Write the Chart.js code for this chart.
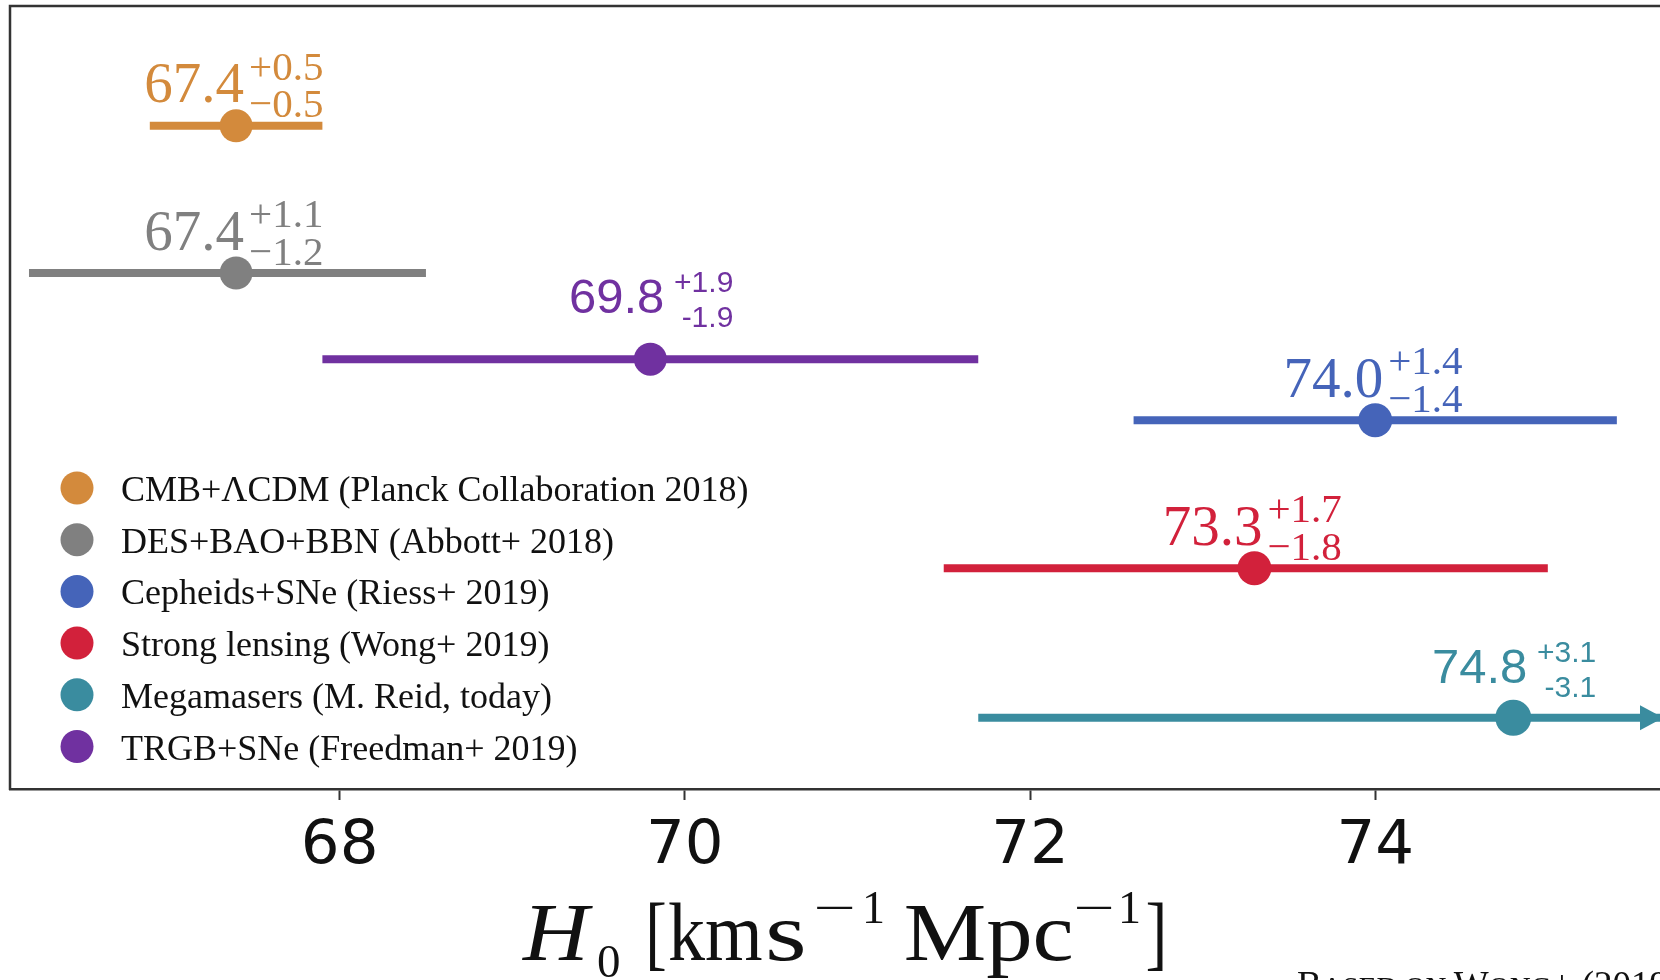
<!DOCTYPE html>
<html>
<head>
<meta charset="utf-8">
<script src="https://cdn.jsdelivr.net/npm/chart.js@4.4.1/dist/chart.umd.min.js"></script>
<style>
  html, body { margin: 0; padding: 0; background: #ffffff; overflow: hidden; }
  #wrap { position: relative; width: 1660px; height: 980px; }
</style>
</head>
<body>
<div id="wrap"><canvas id="h0chart" width="1660" height="980"></canvas></div>
<script>
// H0 measurements, one row per method (top to bottom)
const methods = ['CMB', 'DES', 'TRGB', 'Cepheids', 'Lensing', 'Megamasers'];
const centralValues = [67.4, 67.4, 69.8, 74.0, 73.3, 74.8];
const upperErrors   = [0.5, 1.1, 1.9, 1.4, 1.7, 3.1];
const lowerErrors   = [0.5, 1.2, 1.9, 1.4, 1.8, 3.1];
// vertical level of each row on the (hidden) y scale, 0 = top, 100 = bottom
const rowLevels = [15.3, 34.1, 45.1, 52.9, 71.8, 90.9];

const legendLabels = [
  'CMB+\u039BCDM (Planck Collaboration 2018)',
  'DES+BAO+BBN (Abbott+ 2018)',
  'TRGB+SNe (Freedman+ 2019)',
  'Cepheids+SNe (Riess+ 2019)',
  'Strong lensing (Wong+ 2019)',
  'Megamasers (M. Reid, today)'
];
const legendOrder = [0, 1, 3, 4, 5, 2];

const xTicks = [68, 70, 72, 74];
const xRange = [66.09, 75.65];

// styling
const rowColors = ['#D38A3C', '#808080', '#7031A0', '#4564B9', '#D2213B', '#3A8C9F'];
const dotRadius = [16.5, 16.5, 16.5, 17, 17, 18];
const labelKind = ['serif', 'serif', 'sans', 'serif', 'serif', 'sans'];
const labelLift = [0, 0, 11, 0, 0, 0];

const SERIF = '"Liberation Serif", "Times New Roman", serif';
const SANS = '"Liberation Sans", Arial, sans-serif';

const errorBarSets = methods.map((m, i) => ({
  label: m + ' interval',
  type: 'line',
  data: [
    { x: centralValues[i] - lowerErrors[i], y: rowLevels[i] },
    { x: centralValues[i] + upperErrors[i], y: rowLevels[i] }
  ],
  borderColor: rowColors[i],
  borderWidth: 8,
  borderCapStyle: 'butt',
  pointRadius: 0,
  fill: false,
  order: 2
}));

const pointSet = {
  label: 'central value',
  type: 'scatter',
  data: methods.map((m, i) => ({ x: centralValues[i], y: rowLevels[i] })),
  pointBackgroundColor: rowColors,
  pointBorderWidth: 0,
  pointRadius: dotRadius,
  order: 1
};

// labels like 67.4 (+0.5 / -0.5) next to each point
const valueLabels = {
  id: 'valueLabels',
  afterDatasetsDraw(chart) {
    const ctx = chart.ctx;
    const xs = chart.scales.x, ys = chart.scales.y;
    ctx.save();
    methods.forEach((m, i) => {
      const px = xs.getPixelForValue(centralValues[i]);
      const py = ys.getPixelForValue(rowLevels[i]);
      const main = centralValues[i].toFixed(1);
      const up = '+' + upperErrors[i].toFixed(1);
      ctx.fillStyle = rowColors[i];
      ctx.textBaseline = 'alphabetic';
      if (labelKind[i] === 'serif') {
        const lo = '\u2212' + lowerErrors[i].toFixed(1);
        ctx.textAlign = 'right';
        ctx.font = '57px ' + SERIF;
        ctx.fillText(main, px + 8, py - 23.5);
        ctx.textAlign = 'left';
        ctx.font = '41px ' + SERIF;
        ctx.fillText(up, px + 13, py - 46);
        ctx.fillText(lo, px + 13, py - 8.5);
      } else {
        const lo = '-' + lowerErrors[i].toFixed(1);
        const lift = labelLift[i];
        ctx.textAlign = 'right';
        ctx.font = '49px ' + SANS;
        ctx.fillText(main, px + 14, py - 35 - lift);
        ctx.font = '30px ' + SANS;
        ctx.fillText(up, px + 83, py - 56 - lift);
        ctx.fillText(lo, px + 83, py - 21 - lift);
      }
    });
    ctx.restore();
  }
};

// arrowhead where an interval runs past the right end of the axis
const overflowArrows = {
  id: 'overflowArrows',
  afterDatasetsDraw(chart) {
    const ctx = chart.ctx;
    const xs = chart.scales.x, ys = chart.scales.y;
    const right = chart.chartArea.right;
    ctx.save();
    methods.forEach((m, i) => {
      if (centralValues[i] + upperErrors[i] <= xs.max) return;
      const py = ys.getPixelForValue(rowLevels[i]);
      ctx.fillStyle = rowColors[i];
      ctx.beginPath();
      ctx.moveTo(right + 3, py);
      ctx.lineTo(right - 20, py - 12.5);
      ctx.lineTo(right - 20, py + 12.5);
      ctx.closePath();
      ctx.fill();
    });
    ctx.restore();
  }
};

// left and top edges of the frame (bottom edge is the x axis line)
const frameEdges = {
  id: 'frameEdges',
  afterDraw(chart) {
    const { left, top, right, bottom } = chart.chartArea;
    const ctx = chart.ctx;
    ctx.save();
    ctx.strokeStyle = '#333333';
    ctx.lineWidth = 2.5;
    ctx.beginPath();
    ctx.moveTo(right + 2, top);
    ctx.lineTo(left, top);
    ctx.lineTo(left, bottom + 1);
    ctx.stroke();
    ctx.restore();
  }
};

const dotLegend = {
  id: 'dotLegend',
  afterDraw(chart) {
    const ctx = chart.ctx;
    const { left, top } = chart.chartArea;
    const cx = left + 67, y0 = top + 482, step = 51.7;
    ctx.save();
    legendOrder.forEach((idx, k) => {
      const cy = y0 + k * step;
      ctx.fillStyle = rowColors[idx];
      ctx.beginPath();
      ctx.arc(cx, cy, 16.5, 0, Math.PI * 2);
      ctx.fill();
      ctx.fillStyle = '#111111';
      ctx.font = '36px ' + SERIF;
      ctx.textAlign = 'left';
      ctx.textBaseline = 'alphabetic';
      ctx.fillText(legendLabels[idx], cx + 44, cy + 13);
    });
    ctx.restore();
  }
};

// x axis title: H_0 [km s^-1 Mpc^-1]; pieces with a width are fitted to it
const axisTitle = {
  id: 'axisTitle',
  afterDraw(chart) {
    const ctx = chart.ctx;
    const { left, right } = chart.chartArea;
    const x0 = (left + right) / 2 - 313;
    const base = 960;
    const pieces = [
      { t: 'H',      f: 'italic 82px ' + SERIF, dx: 0,   w: 71,  dy: 0 },
      { t: '0',      f: '47px ' + SERIF,        dx: 76,  w: 21,  dy: 17 },
      { t: '[',      f: '82px ' + SERIF,        dx: 128, w: 15,  dy: 0 },
      { t: 'km',     f: '82px ' + SERIF,        dx: 147, w: 93,  dy: 0 },
      { t: 's',      f: '82px ' + SERIF,        dx: 247, w: 34,  dy: 0 },
      { t: '\u2212', f: '46px ' + SERIF,        dx: 295, w: 36,  dy: -37 },
      { t: '1',      f: '46px ' + SERIF,        dx: 344, w: 0,   dy: -37 },
      { t: 'Mpc',    f: '82px ' + SERIF,        dx: 384, w: 165, dy: 0 },
      { t: '\u2212', f: '46px ' + SERIF,        dx: 555, w: 35,  dy: -37 },
      { t: '1',      f: '46px ' + SERIF,        dx: 600, w: 0,   dy: -37 },
      { t: ']',      f: '82px ' + SERIF,        dx: 625, w: 16,  dy: 0 }
    ];
    ctx.save();
    ctx.fillStyle = '#111111';
    ctx.textAlign = 'left';
    ctx.textBaseline = 'alphabetic';
    pieces.forEach(p => {
      ctx.font = p.f;
      const m = ctx.measureText(p.t);
      const ink = m.actualBoundingBoxLeft + m.actualBoundingBoxRight;
      const sx = p.w ? p.w / ink : 1;
      ctx.save();
      ctx.translate(x0 + p.dx, base + p.dy);
      ctx.scale(sx, 1);
      ctx.fillText(p.t, m.actualBoundingBoxLeft, 0);
      ctx.restore();
    });

    // credit line in small capitals along the lower edge
    const credit = [
      { t: 'B', big: true }, { t: 'ASED ON ', big: false },
      { t: 'W', big: true }, { t: 'ONG', big: false },
      { t: '+ (2019)', big: true }
    ];
    let cx = 1297;
    credit.forEach(p => {
      ctx.font = (p.big ? 37 : 29) + 'px ' + SERIF;
      ctx.fillText(p.t, cx, 997);
      cx += ctx.measureText(p.t).width;
    });
    ctx.restore();
  }
};

new Chart(document.getElementById('h0chart'), {
  type: 'scatter',
  data: { datasets: [pointSet, ...errorBarSets] },
  options: {
    responsive: false,
    animation: false,
    events: [],
    devicePixelRatio: 1,
    layout: { autoPadding: false, padding: { left: 10, top: 6, right: 0, bottom: 0 } },
    plugins: { legend: { display: false }, tooltip: { enabled: false } },
    scales: {
      x: {
        type: 'linear',
        min: xRange[0],
        max: xRange[1],
        afterBuildTicks: s => { s.ticks = xTicks.map(v => ({ value: v })); },
        afterFit: s => { s.height = 191; },
        border: { display: true, color: '#333333', width: 2.5 },
        grid: { display: true, drawOnChartArea: false, drawTicks: true, tickLength: 11, tickColor: '#333333', tickWidth: 2 },
        ticks: { color: '#111111', padding: 11, font: { family: '"DejaVu Sans", sans-serif', size: 61 }, callback: v => String(v) }
      },
      y: {
        type: 'linear', min: 0, max: 100, reverse: true, display: false
      }
    }
  },
  plugins: [valueLabels, overflowArrows, frameEdges, dotLegend, axisTitle]
});
</script>
</body>
</html>
